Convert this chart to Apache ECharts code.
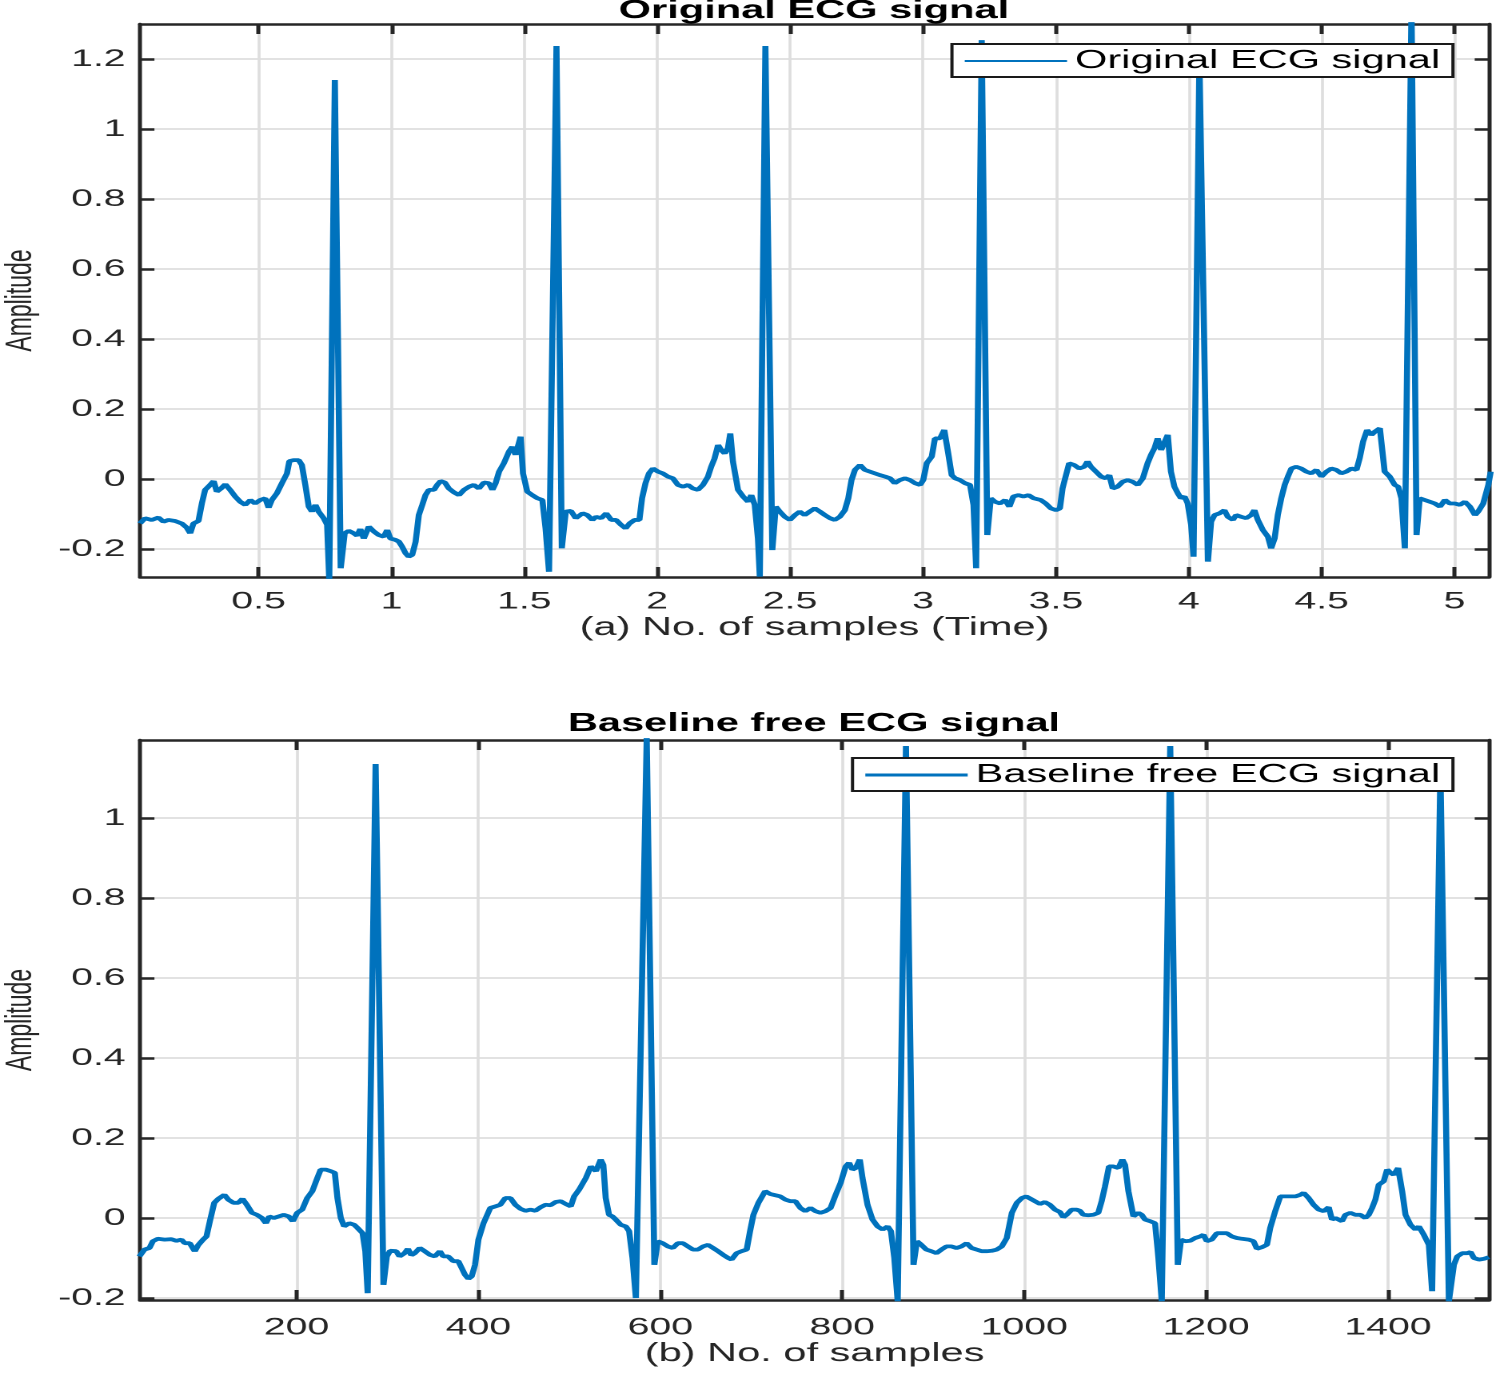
<!DOCTYPE html>
<html style="height: 100%">
<head>
<meta charset="utf-8">
<title>ECG signal</title>
<script type="text/javascript" src="https://cdn.jsdelivr.net/npm/echarts/dist/echarts.min.js"></script>
<style>
	html, body { margin: 0; padding: 0; background: #fff; overflow: hidden; }
	/* the figure is stretched sideways, so draw it narrow and widen it */
	#container { width: 938px; height: 1374px; transform: scaleX(1.5991); transform-origin: 0 0; }
</style>
<script type="text/javascript">
// (a) original signal, time axis
var timeTop = [
	0.054,0.073,0.098,0.123,0.142,0.161,0.186,0.211,0.230,0.243,0.255,0.274,0.287,0.299,0.318,0.331,0.343,0.359,0.375,0.393,
	0.412,0.431,0.450,0.469,0.487,0.506,0.525,0.538,0.550,0.569,0.588,0.607,0.616,0.632,0.651,0.663,0.676,0.689,0.701,0.714,
	0.726,0.745,0.758,0.766,0.787,0.809,0.824,0.839,0.858,0.871,0.883,0.896,0.915,0.934,0.952,0.971,0.984,0.996,1.015,1.028,
	1.040,1.053,1.065,1.078,1.091,1.103,1.116,1.128,1.141,1.160,1.172,1.185,1.201,1.216,1.235,1.254,1.273,1.292,1.310,1.329,
	1.348,1.367,1.380,1.392,1.405,1.423,1.442,1.455,1.467,1.486,1.495,1.511,1.530,1.549,1.568,1.580,1.593,1.621,1.641,1.656,
	1.675,1.694,1.719,1.737,1.756,1.770,1.789,1.808,1.827,1.845,1.864,1.881,1.896,1.915,1.933,1.943,1.956,1.969,1.984,2.003,
	2.021,2.040,2.059,2.078,2.097,2.116,2.134,2.153,2.172,2.191,2.203,2.216,2.229,2.241,2.254,2.266,2.275,2.285,2.304,2.323,
	2.342,2.354,2.367,2.379,2.386,2.407,2.433,2.446,2.461,2.480,2.499,2.518,2.536,2.555,2.574,2.593,2.612,2.631,2.650,2.668,
	2.687,2.706,2.719,2.731,2.744,2.763,2.781,2.800,2.819,2.838,2.857,2.876,2.894,2.913,2.932,2.951,2.970,2.989,3.001,3.014,
	3.033,3.045,3.064,3.080,3.095,3.108,3.121,3.139,3.158,3.177,3.190,3.200,3.221,3.242,3.255,3.271,3.290,3.309,3.325,3.340,
	3.359,3.378,3.397,3.416,3.443,3.462,3.481,3.500,3.515,3.525,3.538,3.550,3.569,3.588,3.607,3.619,3.632,3.651,3.670,3.688,
	3.701,3.714,3.732,3.751,3.770,3.789,3.808,3.827,3.845,3.858,3.871,3.883,3.896,3.908,3.921,3.933,3.946,3.959,3.971,3.984,
	3.996,4.009,4.018,4.040,4.072,4.084,4.097,4.116,4.134,4.147,4.166,4.178,4.197,4.216,4.235,4.247,4.260,4.279,4.298,4.310,
	4.323,4.335,4.348,4.361,4.373,4.386,4.404,4.423,4.442,4.461,4.480,4.499,4.518,4.536,4.555,4.574,4.593,4.612,4.631,4.643,
	4.656,4.671,4.687,4.700,4.719,4.737,4.756,4.775,4.788,4.800,4.813,4.838,4.857,4.869,4.888,4.907,4.926,4.945,4.964,4.982,
	5.001,5.020,5.039,5.058,5.077,5.089,5.108,5.127,5.136
];
var ampTop = [
	-0.127,-0.112,-0.117,-0.110,-0.122,-0.117,-0.120,-0.127,-0.139,-0.155,-0.127,-0.120,-0.069,-0.031,-0.017,-0.006,-0.036,-0.027,-0.015,-0.031,
	-0.050,-0.065,-0.074,-0.060,-0.070,-0.060,-0.055,-0.082,-0.060,-0.041,-0.012,0.016,0.051,0.054,0.054,0.040,-0.017,-0.079,-0.093,-0.074,
	-0.093,-0.112,-0.131,-0.290,1.140,-0.255,-0.155,-0.148,-0.155,-0.162,-0.143,-0.170,-0.136,-0.150,-0.160,-0.165,-0.146,-0.170,-0.174,-0.179,
	-0.193,-0.212,-0.222,-0.217,-0.179,-0.103,-0.074,-0.046,-0.031,-0.031,-0.017,-0.006,-0.010,-0.027,-0.038,-0.046,-0.031,-0.022,-0.017,-0.027,
	-0.010,-0.012,-0.031,-0.012,0.021,0.045,0.078,0.092,0.069,0.121,0.016,-0.036,-0.046,-0.055,-0.060,-0.141,-0.265,1.237,-0.198,-0.093,
	-0.091,-0.112,-0.098,-0.103,-0.117,-0.108,-0.112,-0.098,-0.117,-0.117,-0.131,-0.141,-0.127,-0.117,-0.117,-0.055,-0.012,0.016,0.030,0.021,
	0.016,0.007,0.002,-0.017,-0.022,-0.017,-0.027,-0.031,-0.017,0.007,0.035,0.059,0.097,0.083,0.073,0.088,0.130,0.050,-0.031,-0.050,
	-0.065,-0.046,-0.074,-0.170,-0.279,1.237,-0.203,-0.079,-0.093,-0.108,-0.117,-0.103,-0.093,-0.103,-0.093,-0.084,-0.093,-0.103,-0.112,-0.117,
	-0.108,-0.089,-0.055,-0.003,0.026,0.040,0.026,0.021,0.016,0.011,0.007,0.002,-0.012,-0.003,0.002,-0.003,-0.012,-0.017,-0.003,0.045,
	0.064,0.116,0.116,0.140,0.073,0.011,0.002,-0.003,-0.012,-0.017,-0.074,-0.255,1.254,-0.160,-0.055,-0.065,-0.070,-0.060,-0.079,-0.050,
	-0.046,-0.050,-0.046,-0.055,-0.060,-0.070,-0.084,-0.089,-0.084,-0.027,0.011,0.045,0.040,0.030,0.035,0.050,0.035,0.021,0.007,0.002,
	0.011,-0.027,-0.022,-0.008,-0.003,-0.008,-0.017,0.002,0.045,0.069,0.088,0.116,0.083,0.083,0.126,0.021,-0.022,-0.041,-0.055,-0.050,
	-0.070,-0.131,-0.222,1.200,-0.236,-0.122,-0.103,-0.098,-0.089,-0.108,-0.117,-0.103,-0.108,-0.112,-0.103,-0.089,-0.117,-0.146,-0.165,-0.198,
	-0.170,-0.103,-0.055,-0.017,0.007,0.030,0.035,0.030,0.021,0.016,0.026,0.007,0.021,0.030,0.026,0.016,0.021,0.030,0.026,0.059,
	0.107,0.140,0.126,0.135,0.145,0.021,0.007,-0.017,-0.022,-0.055,-0.198,1.350,-0.160,-0.055,-0.060,-0.065,-0.070,-0.079,-0.060,-0.070,
	-0.070,-0.074,-0.065,-0.079,-0.103,-0.093,-0.070,-0.017,0.021
];

// (b) baseline free signal, sample axis
var sampleBottom = [
	27.3,32.9,38.4,42.1,47.6,55.0,62.4,67.9,73.5,77.2,82.7,88.2,91.9,97.4,101.1,104.8,109.6,114.1,120.7,125.1,
	130.7,136.2,140.6,145.4,151.0,156.5,162.0,166.4,170.1,175.0,180.5,186.0,191.5,196.0,200.8,206.3,211.8,217.4,222.9,226.6,
	232.1,237.7,242.1,245.0,248.7,252.4,258.0,263.5,267.2,272.7,275.7,278.3,287.0,295.6,299.3,303.0,309.6,313.3,318.8,322.5,
	326.2,329.9,335.5,341.0,346.5,352.1,357.6,361.3,366.8,372.4,377.9,381.6,385.3,389.0,392.6,396.3,400.0,405.6,413.0,418.5,
	424.0,429.5,435.1,440.6,446.2,451.7,457.2,462.7,468.3,473.8,479.4,484.9,490.4,496.0,501.5,505.2,510.7,518.1,523.6,529.2,
	534.4,537.3,539.9,543.6,547.3,551.0,556.5,562.0,565.7,569.4,573.1,585.0,593.4,597.1,602.6,608.2,613.7,619.2,624.8,630.3,
	635.8,641.4,646.9,652.4,658.0,663.5,669.0,674.6,678.3,683.8,689.3,694.9,698.6,702.3,707.8,715.2,720.7,726.2,731.8,737.3,
	742.8,748.4,753.9,759.4,765.0,770.5,776.0,781.6,787.1,792.7,798.2,803.7,807.4,811.1,814.8,819.2,822.2,827.7,833.2,838.8,
	844.3,849.8,853.5,857.2,860.9,870.0,878.3,882.0,886.8,892.3,897.8,903.4,908.9,914.4,920.0,925.5,931.0,936.6,942.1,947.6,
	953.2,958.7,964.2,969.8,975.3,980.8,986.4,991.9,997.4,1002.2,1008.5,1017.2,1022.7,1028.2,1033.7,1039.2,1042.9,1046.6,1052.1,1057.6,
	1061.2,1064.9,1070.4,1075.9,1081.4,1085.1,1088.8,1093.2,1097.9,1103.5,1107.9,1110.8,1114.5,1120.0,1125.5,1129.1,1132.8,1138.3,1143.8,1147.5,
	1151.2,1160.5,1168.8,1172.4,1176.9,1182.4,1187.9,1193.4,1197.0,1200.7,1206.2,1211.7,1217.2,1222.7,1228.2,1233.7,1239.2,1246.6,1252.1,1255.8,
	1261.3,1266.8,1270.4,1275.9,1281.5,1287.0,1292.5,1298.0,1303.5,1307.1,1312.6,1318.1,1323.6,1329.2,1334.7,1338.3,1342.0,1345.7,1349.3,1353.0,
	1358.5,1364.0,1369.5,1375.0,1378.7,1382.4,1386.0,1389.7,1395.2,1398.9,1402.6,1406.2,1411.0,1415.4,1419.1,1424.6,1430.1,1433.8,1439.3,1444.8,
	1448.4,1457.5,1466.8,1472.3,1476.0,1481.5,1487.0,1490.6,1494.3,1499.8,1505.3,1510.8
];
var ampBottom = [
	-0.096,-0.079,-0.075,-0.058,-0.052,-0.054,-0.053,-0.057,-0.054,-0.063,-0.063,-0.083,-0.068,-0.054,-0.046,-0.008,0.038,0.048,0.058,0.046,
	0.038,0.038,0.048,0.033,0.013,0.008,0.000,-0.013,0.004,0.000,0.004,0.008,0.004,-0.008,0.013,0.021,0.050,0.067,0.100,0.121,
	0.121,0.117,0.113,0.050,0.000,-0.021,-0.013,-0.017,-0.025,-0.038,-0.083,-0.188,1.135,-0.167,-0.096,-0.082,-0.083,-0.096,-0.088,-0.077,
	-0.093,-0.088,-0.075,-0.083,-0.092,-0.096,-0.083,-0.096,-0.096,-0.108,-0.108,-0.125,-0.142,-0.152,-0.146,-0.117,-0.054,-0.013,0.025,0.029,
	0.033,0.050,0.050,0.033,0.023,0.018,0.021,0.018,0.027,0.033,0.032,0.040,0.042,0.035,0.029,0.054,0.071,0.100,0.129,0.117,
	0.146,0.133,0.050,0.008,0.004,-0.004,-0.017,-0.021,-0.033,-0.100,-0.200,1.200,-0.117,-0.058,-0.063,-0.071,-0.075,-0.063,-0.063,-0.071,
	-0.079,-0.079,-0.071,-0.067,-0.075,-0.083,-0.092,-0.100,-0.104,-0.088,-0.083,-0.079,-0.033,0.008,0.038,0.067,0.060,0.057,0.054,0.046,
	0.042,0.042,0.025,0.017,0.025,0.017,0.013,0.017,0.025,0.058,0.088,0.129,0.138,0.121,0.125,0.146,0.100,0.033,-0.004,-0.021,
	-0.029,-0.021,-0.033,-0.100,-0.208,1.180,-0.117,-0.058,-0.067,-0.079,-0.083,-0.088,-0.079,-0.071,-0.071,-0.075,-0.071,-0.063,-0.075,-0.079,
	-0.083,-0.083,-0.082,-0.079,-0.071,-0.050,0.013,0.038,0.050,0.054,0.046,0.035,0.040,0.033,0.021,0.015,0.002,0.008,0.021,0.021,
	0.018,0.008,0.007,0.008,0.013,0.042,0.079,0.129,0.129,0.125,0.146,0.133,0.067,0.004,0.013,0.008,-0.004,-0.008,-0.013,-0.100,
	-0.208,1.180,-0.117,-0.054,-0.058,-0.057,-0.050,-0.046,-0.042,-0.058,-0.054,-0.038,-0.038,-0.038,-0.046,-0.050,-0.052,-0.054,-0.058,-0.077,
	-0.073,-0.067,-0.025,0.017,0.054,0.054,0.054,0.054,0.058,0.063,0.050,0.033,0.021,0.017,0.027,-0.004,0.000,-0.004,-0.008,0.008,
	0.013,0.008,0.008,0.000,0.008,0.025,0.046,0.083,0.092,0.121,0.113,0.108,0.125,0.067,0.008,-0.017,-0.029,-0.021,-0.042,-0.067,
	-0.183,1.120,-0.208,-0.117,-0.096,-0.088,-0.088,-0.085,-0.100,-0.104,-0.102,-0.098
];

// tick labels
var xTicksTop = [0.5, 1, 1.5, 2, 2.5, 3, 3.5, 4, 4.5, 5];
var yTicksTop = [-0.2, 0, 0.2, 0.4, 0.6, 0.8, 1, 1.2];
var xTicksBottom = [200, 400, 600, 800, 1000, 1200, 1400];
var yTicksBottom = [-0.2, 0, 0.2, 0.4, 0.6, 0.8, 1];

var FONT = 'Liberation Sans';
var INK = '#262626';
var TICK_SIZE = 24.5;

function pairs(xs, ys){
	var out = [];
	for(var i=0;i<xs.length;i++){
		out.push([xs[i], ys[i]]);
	}
	return out;
}

// one axis of a boxed matlab-like frame; only the main ones get labels and grid
function frameAxis(gridIndex, pos, min, max, ticks, main, extra){
	var isX = (pos=='bottom' || pos=='top');
	var ax = {
		type: 'value',
		gridIndex: gridIndex,
		position: pos,
		min: min,
		max: max,
		axisLine: {show: true, onZero: false, lineStyle: {color: INK, width: 2.5}},
		axisTick: {show: true, inside: true, length: isX ? 10 : 9, customValues: ticks, lineStyle: {color: INK, width: 2.5}},
		axisLabel: {
			show: main, customValues: ticks, margin: isX ? 12 : 9,
			fontFamily: FONT, fontSize: TICK_SIZE, color: INK,
			formatter: function(v){ return String(v); }
		},
		splitLine: {show: main, lineStyle: {color: '#dedede', width: 1.8}}
	};
	if(extra){
		for(var k in extra){ ax[k] = extra[k]; }
	}
	return ax;
}

window.onload = function(){
	var dom = document.getElementById('container');
	var myChart = echarts.init(dom, null, {renderer: 'canvas', devicePixelRatio: 2});

	var nameStyle = {fontFamily: FONT, fontSize: 26, color: INK};
	var titleStyle = {fontFamily: FONT, fontSize: 26, fontWeight: 'bold', color: '#000'};
	var ampStyle = {fontFamily: FONT, fontSize: 23, color: INK};

	function legendFor(name, top, thick){
		return {
			data: [{name: name, icon: 'rect'}],
			orient: 'horizontal',
			right: 29.4,
			top: top,
			padding: [4, 8, 3, 8],
			itemWidth: 64,
			itemHeight: thick,
			backgroundColor: '#fff',
			borderColor: '#1a1a1a',
			borderWidth: 2,
			borderRadius: 0,
			textStyle: {fontFamily: FONT, fontSize: 26, color: '#000'}
		};
	}

	var option = {
		animation: false,
		backgroundColor: '#fff',
		title: [
			{text: 'Original ECG signal', left: 509, top: -2, textAlign: 'center', padding: 0, textStyle: titleStyle},
			{text: 'Baseline free ECG signal', left: 509, top: 711, textAlign: 'center', padding: 0, textStyle: titleStyle}
		],
		legend: [
			legendFor('Original ECG signal', 44, 2),
			legendFor('Baseline free ECG signal', 758, 3)
		],
		grid: [
			{left: 87.55, right: 6.8, top: 24, bottom: 797, outerBoundsMode: 'none'},
			{left: 87.55, right: 6.8, top: 740, bottom: 74, outerBoundsMode: 'none'}
		],
		xAxis: [
			frameAxis(0, 'bottom', 0.054, 5.13, xTicksTop, true,
				{name: '(a) No. of samples (Time)', nameLocation: 'middle', nameGap: 36, nameTextStyle: nameStyle}),
			frameAxis(0, 'top', 0.054, 5.13, xTicksTop, false),
			frameAxis(1, 'bottom', 28, 1511, xTicksBottom, true,
				{name: '(b) No. of samples', nameLocation: 'middle', nameGap: 41, nameTextStyle: nameStyle}),
			frameAxis(1, 'top', 28, 1511, xTicksBottom, false)
		],
		yAxis: [
			frameAxis(0, 'left', -0.28, 1.3, yTicksTop, true,
				{name: 'Amplitude', nameLocation: 'middle', nameGap: 63, nameTextStyle: ampStyle}),
			frameAxis(0, 'right', -0.28, 1.3, yTicksTop, false),
			frameAxis(1, 'left', -0.205, 1.195, yTicksBottom, true,
				{name: 'Amplitude', nameLocation: 'middle', nameGap: 63, nameTextStyle: ampStyle}),
			frameAxis(1, 'right', -0.205, 1.195, yTicksBottom, false)
		],
		series: [
			{
				name: 'Original ECG signal',
				type: 'line',
				xAxisIndex: 0,
				yAxisIndex: 0,
				data: pairs(timeTop, ampTop),
				symbol: 'none',
				showSymbol: false,
				clip: true,
				lineStyle: {color: '#0072bd', width: 3.8},
				itemStyle: {color: '#0072bd'}
			},
			{
				name: 'Baseline free ECG signal',
				type: 'line',
				xAxisIndex: 2,
				yAxisIndex: 2,
				data: pairs(sampleBottom, ampBottom),
				symbol: 'none',
				showSymbol: false,
				clip: true,
				lineStyle: {color: '#0072bd', width: 3.8},
				itemStyle: {color: '#0072bd'}
			}
		]
	};

	// bottom axis labels sit a little lower than the top ones
	option.xAxis[2].axisLabel.margin = 15;

	myChart.setOption(option);
};
</script>
</head>
<body>
<div id="container"></div>
</body>
</html>
